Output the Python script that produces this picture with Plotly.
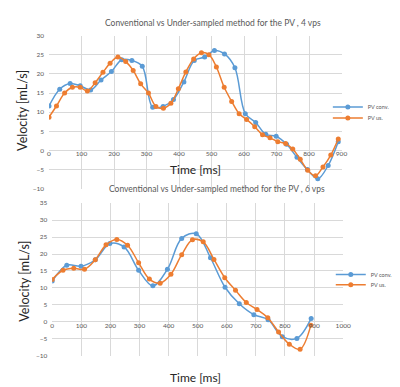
import plotly.graph_objects as go

# ---- Top chart (4 vps) ----
top_conv_t = [0, 33, 65, 96, 128, 160, 192, 224, 255, 287, 319, 351, 383, 415, 447, 479, 509, 540, 572,
              604, 636, 667, 699, 731, 763, 795, 827, 859, 890]
top_conv_v = [11.6, 16.0, 17.5, 16.9, 15.8, 18.4, 20.6, 23.7, 23.5, 22.0, 11.3, 11.5, 13.3, 17.9, 23.5, 24.4, 26.1, 25.2, 21.6,
              9.6, 7.3, 4.2, 3.7, 1.6, -1.8, -5.0, -7.4, -3.9, 2.3]
top_us_t = [0, 23, 48, 72, 96, 118, 142, 166, 188, 212, 236, 259, 282, 306, 329, 352, 375, 398, 421, 445,
            469, 492, 515, 539, 562, 585, 608, 633, 657, 680, 704, 728, 750, 773, 796, 820, 843, 867, 890]
top_us_v = [8.7, 11.6, 15.0, 16.5, 16.5, 15.5, 17.7, 20.4, 22.8, 24.4, 23.2, 20.9, 17.4, 15.0, 11.5, 11.0, 12.3, 16.1, 20.5, 23.9,
            25.5, 25.0, 21.8, 16.5, 12.8, 9.6, 8.1, 6.2, 4.1, 3.3, 2.3, 1.8, 0.4, -2.3, -5.2, -6.6, -4.3, -1.2, 3.0]

# ---- Bottom chart (6 vps) ----
bot_conv_t = [0, 50, 99, 148, 198, 247, 297, 346, 396, 445, 495, 544, 594, 643, 693, 742, 791, 841, 890]
bot_conv_v = [12.0, 16.7, 16.4, 18.3, 23.1, 22.1, 15.2, 10.6, 15.5, 24.6, 26.0, 18.9, 10.2, 5.3, 2.1, 0.6, -4.4, -4.9, 1.0]
bot_us_t = [0, 37, 74, 111, 148, 185, 222, 259, 297, 334, 371, 408, 445, 482, 519, 556, 593, 630, 667,
            704, 741, 778, 815, 852, 889]
bot_us_v = [12.5, 15.2, 15.8, 15.5, 18.3, 22.7, 24.3, 22.6, 17.4, 12.6, 11.4, 14.0, 19.8, 24.2, 23.6, 18.4, 13.0, 9.3, 5.7,
            3.6, 1.2, -3.0, -6.6, -8.1, -1.0]

series_names = ["PV conv.", "PV us."]
titles = ["Conventional vs Under-sampled method for the PV , 4 vps",
          "Conventional vs Under-sampled method for the PV , 6 vps"]

BLUE = "#5B9BD5"
ORANGE = "#ED7D31"
GRID = "#d9d9d9"
TXT = "#595959"
FONT = "Lato"

W, H = 400, 387
def px(x):
    return x / W
def py(y):
    return 1 - y / H

fig = go.Figure()

def add(t, v, name, color, xa, ya, leg):
    fig.add_trace(go.Scatter(x=t, y=v, name=name, mode="lines+markers",
                             line=dict(color=color, width=1.5, shape="spline", smoothing=1),
                             marker=dict(color=color, size=5, symbol="circle"),
                             xaxis=xa, yaxis=ya, legend=leg))

add(top_conv_t, top_conv_v, series_names[0], BLUE, "x", "y", "legend")
add(top_us_t, top_us_v, series_names[1], ORANGE, "x", "y", "legend2")
add(bot_conv_t, bot_conv_v, series_names[0], BLUE, "x2", "y2", "legend3")
add(bot_us_t, bot_us_v, series_names[1], ORANGE, "x2", "y2", "legend4")

tickfont = dict(family=FONT, size=6.5, color=TXT)

top_dom_x = [px(40), px(340)]
top_dom_y = [py(180), py(24)]
bot_dom_x = [px(43.3), px(341.7)]
bot_dom_y = [py(350), py(194.7)]

common_grid = dict(showgrid=True, gridcolor=GRID, gridwidth=1, zeroline=False, showline=False, ticks="")

fig.update_layout(
    width=W, height=H, margin=dict(l=0, r=0, t=0, b=0),
    paper_bgcolor="white", plot_bgcolor="white",
    font=dict(family=FONT, color=TXT),
    showlegend=True,
    xaxis=dict(domain=top_dom_x, range=[0, 900], dtick=100, showticklabels=False, anchor="y", **common_grid),
    yaxis=dict(domain=top_dom_y, range=[-10, 30], dtick=5, anchor="x", tickfont=tickfont,
               ticklabelstandoff=4, **common_grid),
    xaxis2=dict(domain=bot_dom_x, range=[0, 1000], dtick=100, showticklabels=False, anchor="y2", **common_grid),
    yaxis2=dict(domain=bot_dom_y, range=[-10, 35], dtick=5, anchor="x2", tickfont=tickfont,
                ticklabelstandoff=4, **common_grid),
    # tick-label axes placed just at the y = 0 line (Excel style)
    xaxis3=dict(overlaying="x", anchor="free", position=py(138.7), range=[0, 900], dtick=100,
                showgrid=False, zeroline=False, showline=False,
                ticks="", ticklen=0, tickfont=tickfont),
    xaxis4=dict(overlaying="x2", anchor="free", position=py(313.7), range=[0, 1000], dtick=100,
                showgrid=False, zeroline=False, showline=False,
                ticks="", ticklen=0, tickfont=tickfont),
)

# invisible helper traces to activate the tick-label axes
fig.add_trace(go.Scatter(x=[0, 900], y=[0, 0], xaxis="x3", yaxis="y", mode="lines",
                         line=dict(width=0), showlegend=False, hoverinfo="skip", opacity=0))
fig.add_trace(go.Scatter(x=[0, 1000], y=[0, 0], xaxis="x4", yaxis="y2", mode="lines",
                         line=dict(width=0), showlegend=False, hoverinfo="skip", opacity=0))

legfont = dict(family=FONT, size=5.5, color=TXT)
def leg(xpx, ypx):
    return dict(x=px(xpx), y=py(ypx), xanchor="left", yanchor="middle", font=legfont,
                bgcolor="rgba(0,0,0,0)", borderwidth=0, itemwidth=30, tracegroupgap=0)

fig.update_layout(
    legend=leg(326, 96.7),
    legend2=leg(326, 108),
    legend3=leg(329, 267.3),
    legend4=leg(329, 277.7),
)

ann = []
ann.append(dict(text=titles[0], x=px(208), y=py(11), xref="paper", yref="paper", showarrow=False,
                font=dict(family=FONT, size=8.5, color=TXT), xanchor="center", yanchor="middle"))
ann.append(dict(text=titles[1], x=px(212), y=py(180.7), xref="paper", yref="paper", showarrow=False,
                font=dict(family=FONT, size=8.5, color=TXT), xanchor="center", yanchor="middle"))
for (xx, yy) in [(190, 160.7), (190, 372.7)]:
    ann.append(dict(text="Time [ms]", x=px(xx), y=py(yy), xref="paper", yref="paper", showarrow=False,
                    font=dict(family=FONT, size=12, color="#262626"), xanchor="center", yanchor="middle"))
for (xx, yy) in [(12, 100), (14, 274)]:
    ann.append(dict(text="Velocity [mL/s]", x=px(xx), y=py(yy), xref="paper", yref="paper", showarrow=False,
                    textangle=-90, font=dict(family=FONT, size=12.5, color="#262626"),
                    xanchor="center", yanchor="middle"))
fig.update_layout(annotations=ann)

fig.write_html("out.html")
